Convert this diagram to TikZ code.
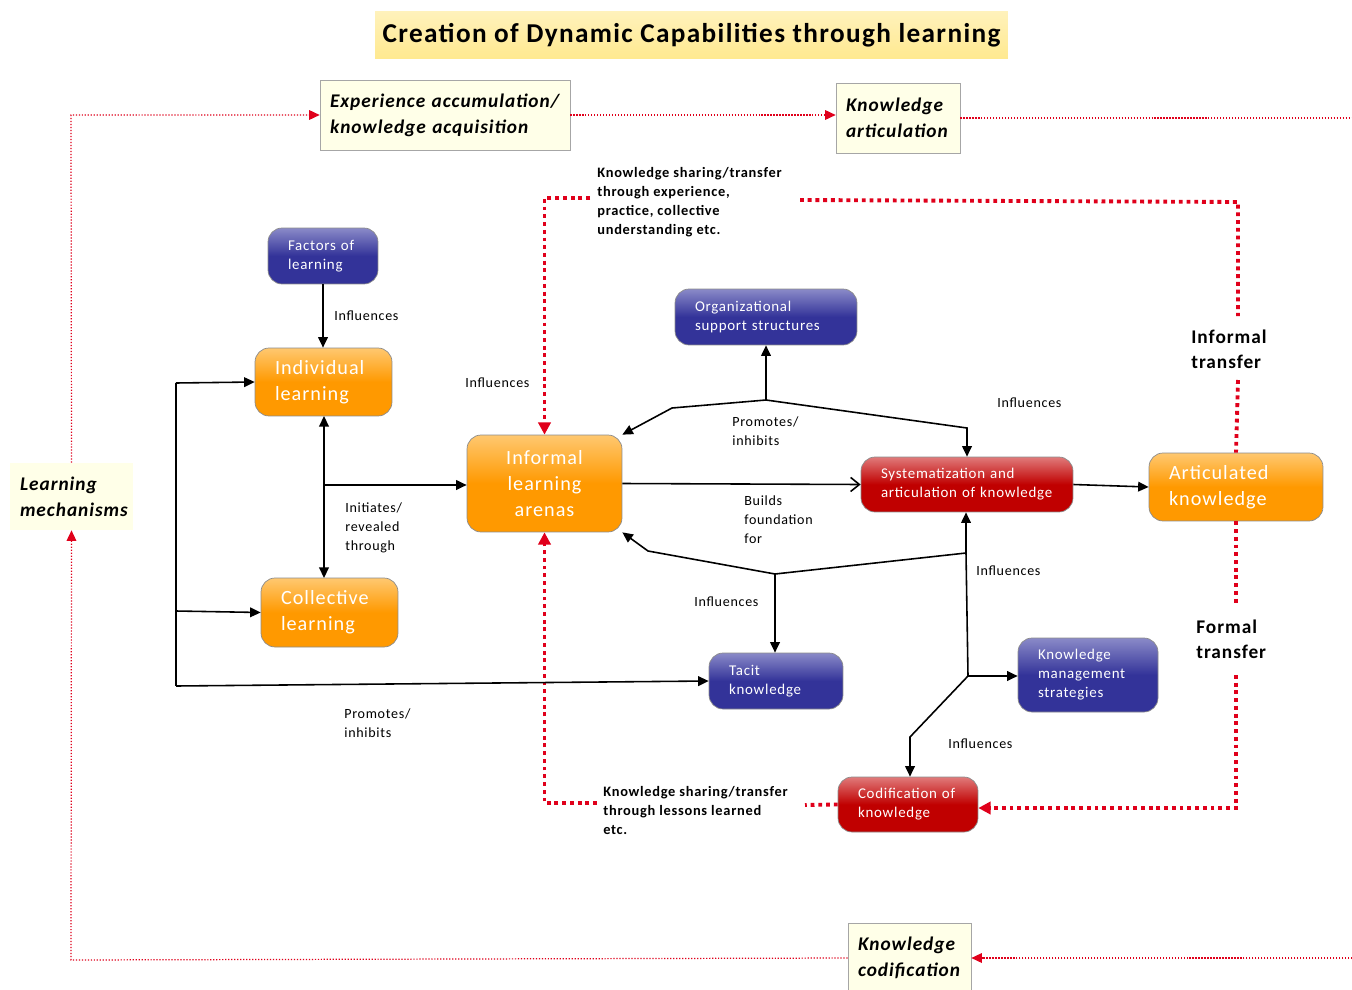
\documentclass[tikz,border=0pt]{standalone}
\usepackage{fontspec}
\setmainfont[LetterSpace=5]{Carlito}
\usetikzlibrary{arrows.meta}
\definecolor{rdot}{HTML}{E0001B}
\definecolor{orb}{HTML}{FF9900}
\definecolor{ort}{HTML}{FFC870}
\definecolor{blb}{HTML}{333399}
\definecolor{blt}{HTML}{8A8AC8}
\definecolor{rdb}{HTML}{C00000}
\definecolor{rdt}{HTML}{E07A7A}
\definecolor{ivory}{HTML}{FFFFE8}
\definecolor{ttl}{HTML}{FFE98F}
\tikzset{
  basebox/.style={rounded corners=8pt, draw=black!45, line width=0.4pt, text=white, inner xsep=0.4cm, inner ysep=2pt, align=left},
  obox/.style={basebox, top color=ort, bottom color=orb, middle color=orb, font=\fontsize{11.5}{14.7}\selectfont},
  bbox/.style={basebox, top color=blt, bottom color=blb, middle color=blb, font=\fontsize{8.5}{10.8}\selectfont},
  rbox/.style={basebox, top color=rdt, bottom color=rdb, middle color=rdb, font=\fontsize{8.5}{10.8}\selectfont},
  ivbox/.style={fill=ivory, draw=black!35, line width=0.4pt, align=left, inner xsep=0.2cm, font=\bfseries\itshape\fontsize{11}{14.7}\selectfont},
  lbl/.style={align=left, inner sep=0pt, font=\fontsize{8}{10.8}\selectfont},
  blbl/.style={align=left, inner sep=0pt, font=\bfseries\fontsize{8.2}{10.8}\selectfont},
  tlbl/.style={align=left, inner sep=0pt, font=\bfseries\fontsize{11}{14.2}\selectfont},
  arr/.style={line width=0.9pt, -{Triangle[length=6pt,width=5.5pt]}},
  ln/.style={line width=0.9pt},
  thin red/.style={rdot, line width=0.7pt, densely dotted},
  thin red arr/.style={thin red, -{Triangle[length=6pt,width=5.5pt]}},
  thick red/.style={rdot, line width=2.2pt, dash pattern=on 2.2pt off 2.2pt},
  thick red arr/.style={thick red, -{Triangle[length=7pt,width=7pt]}},
}
\begin{document}
\begin{tikzpicture}[x=0.02cm,y=0.02cm]
\useasboundingbox (0,0) rectangle (1352,-990);
\fill[white] (0,0) rectangle (1352,-990);
% title
\node[top color=ttl!60!white, bottom color=ttl, minimum width=12.66cm, minimum height=0.96cm, font=\bfseries\fontsize{15.5}{17}\selectfont] (title) at (691.5,-35) {Creation of Dynamic Capabilities through learning};
% ivory boxes
\node[ivbox, minimum width=5.0cm, minimum height=1.4cm, text width=4.6cm] (exp) at (445,-115) {Experience accumulation/\\knowledge acquisition};
\node[ivbox, minimum width=2.48cm, minimum height=1.4cm, text width=2.08cm] (ka) at (898,-118) {Knowledge\\articulation};
\node[ivbox, minimum width=2.46cm, minimum height=1.4cm, text width=2.06cm] (kc) at (909.5,-958) {Knowledge\\codification};
\node[ivbox, draw=none, minimum width=2.46cm, minimum height=1.34cm, text width=2.06cm] (lm) at (71.5,-496.5) {Learning\\mechanisms};
% boxes
\node[bbox, text width=1.4cm, minimum height=1.12cm] (fac) at (323,-256) {Factors of\\learning};
\node[obox, text width=1.94cm, minimum height=1.36cm] (ind) at (323.5,-382) {Individual\\learning};
\node[obox, text width=1.94cm, minimum height=1.38cm] (col) at (329.5,-612.5) {Collective\\learning};
\node[obox, text width=2.3cm, minimum height=1.94cm, align=center] (inf) at (544.5,-483.5) {Informal\\learning\\arenas};
\node[bbox, text width=2.84cm, minimum height=1.12cm] (org) at (766,-317) {Organizational\\support structures};
\node[rbox, text width=3.44cm, minimum height=1.1cm] (sys) at (967,-484.5) {Systematization and\\articulation of knowledge};
\node[obox, text width=2.68cm, minimum height=1.36cm] (art) at (1236,-487) {Articulated\\knowledge};
\node[bbox, text width=1.88cm, minimum height=1.12cm] (tac) at (776,-681) {Tacit\\knowledge};
\node[bbox, text width=2.0cm, minimum height=1.48cm] (km) at (1088,-675) {Knowledge\\management\\strategies};
\node[rbox, text width=2.0cm, minimum height=1.1cm] (cod) at (908,-804.5) {Codification of\\knowledge};
% labels
\node[lbl, anchor=north west] (l1) at (334,-310) {Influences};
\node[lbl, anchor=north west] (l2) at (465,-377) {Influences};
\node[lbl, anchor=north west] (l3) at (345,-502) {Initiates/\\revealed\\through};
\node[lbl, anchor=north west] (l4) at (344,-708) {Promotes/\\inhibits};
\node[lbl, anchor=north west] (l5) at (732,-416) {Promotes/\\inhibits};
\node[lbl, anchor=north west] (l6) at (997,-397) {Influences};
\node[lbl, anchor=north west] (l7) at (744,-495) {Builds\\foundation\\for};
\node[lbl, anchor=north west] (l8) at (694,-596) {Influences};
\node[lbl, anchor=north west] (l9) at (976,-565) {Influences};
\node[lbl, anchor=north west] (l10) at (948,-738) {Influences};
\node[blbl, anchor=north west] (ks1) at (597,-167) {Knowledge sharing/transfer\\through experience,\\practice, collective\\understanding etc.};
\node[blbl, anchor=north west] (ks2) at (603,-786) {Knowledge sharing/transfer\\through lessons learned\\etc.};
\node[tlbl, anchor=north west] (it) at (1191,-330) {Informal\\transfer};
\node[tlbl, anchor=north west] (ft) at (1196,-620) {Formal\\transfer};
% thin red dotted loop
\coordinate (c1) at (71,-115);
\coordinate (c2) at (1352,-118);
\coordinate (c3) at (1352,-958);
\coordinate (c4) at (71,-960);
\draw[thin red arr] (lm.north) -- (c1) -- (exp.west);
\draw[thin red arr] (exp.east) -- (exp.east -| ka.west);
\draw[thin red] (ka.east) -- (c2);
\draw[thin red arr] (c3) -- (kc.east);
\draw[thin red arr] (kc.west) -- (c4) -- (lm.south);
% thick red dotted
\coordinate (r1) at (590,-198);
\draw[thick red arr] (r1) -- (r1 -| inf.north) -- (inf.north);
\coordinate (r2) at (800,-200);
\coordinate (r3) at (1238,-202);
\coordinate (r4) at (1238,-316);
\coordinate (r5) at (1238,-380);
\coordinate (r6) at (1236,-606);
\coordinate (r7) at (1236,-675);
\coordinate (r8) at (1236,-808);
\draw[thick red] (r2) -- (r3) -- (r4);
\draw[thick red] (r5) -- (art.north);
\draw[thick red] (art.south) -- (r6);
\draw[thick red arr] (r7) -- (r8) -- (r8 -| cod.east);
\coordinate (r9) at (805,-805);
\draw[thick red] (cod.west) -- (r9);
\coordinate (r10) at (597,-803);
\draw[thick red arr] (r10) -- (r10 -| inf.south) -- (inf.south);
% black connectors
\draw[arr] (fac.south) -- (fac.south |- ind.north);
\coordinate (j1) at (324,-485);
\draw[ln, {Triangle[length=6pt,width=5.5pt]}-{Triangle[length=6pt,width=5.5pt]}] (324,-416) -- (324,-578);
\draw[arr] (j1) -- (j1 -| inf.west);
\coordinate (L1) at (176,-383);
\coordinate (L2) at (176,-611);
\coordinate (L3) at (176,-686);
\draw[ln] (L1) -- (L3);
\draw[arr] (L1) -- (ind.west);
\draw[arr] (L2) -- (col.west);
\draw[arr] (L3) -- (tac.west);
\coordinate (J2) at (766,-400);
\coordinate (k1) at (672,-408);
\coordinate (k2) at (967,-428);
\draw[arr] (J2) -- (org.south);
\draw[arr] (J2) -- (k1) -- (inf.north east);
\draw[arr] (J2) -- (k2) -- (sys.north);
\draw[line width=0.9pt, -{Straight Barb[length=5pt,width=8pt]}] (inf.east) -- (sys.west);
\draw[arr] (sys.east) -- (art.west);
\coordinate (J3) at (775,-574);
\coordinate (k3) at (648,-551);
\coordinate (J4) at (966,-553);
\coordinate (J5) at (968,-676);
\coordinate (k4) at (910,-737);
\draw[arr] (J3) -- (k3) -- (inf.south east);
\draw[arr] (J3) -- (J3 |- tac.north);
\draw[ln] (J3) -- (J4);
\draw[arr] (J5) -- (J4) -- (J4 |- sys.south);
\draw[arr] (J5) -- (J5 -| km.west);
\draw[arr] (J5) -- (k4) -- (k4 |- cod.north);
\end{tikzpicture}
\end{document}
